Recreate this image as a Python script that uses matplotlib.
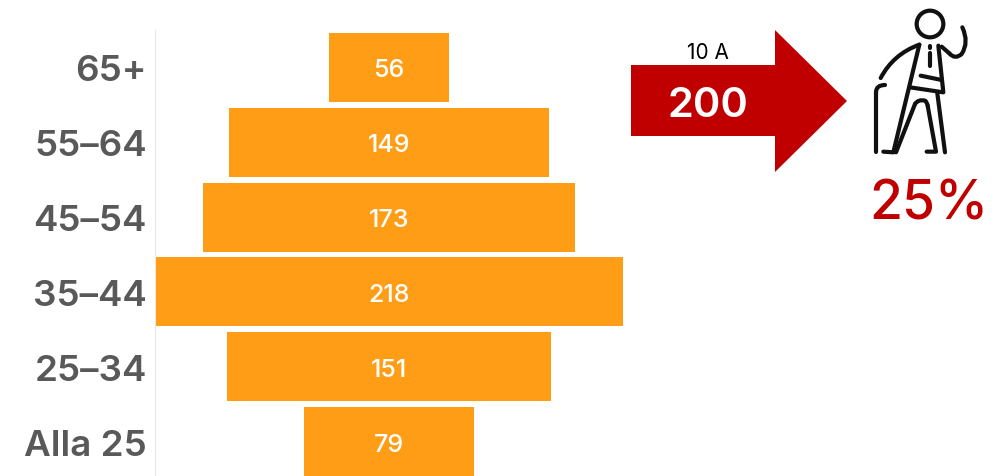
import matplotlib
matplotlib.use("Agg")
from matplotlib import pyplot as plt
from matplotlib.patches import Circle, PathPatch, Polygon
from matplotlib.path import Path

W, H = 994, 477

ages = ["65+", "55–64", "45–54", "35–44", "25–34", "Alla 25"]
counts = [56, 149, 173, 218, 151, 79]
arrow_top = "10 A"
arrow_value = "200"
share = "25%"

ORANGE = "#ff9e16"
RED = "#c00000"
GREY = "#595959"

plt.rcParams["font.family"] = ["Inter", "DejaVu Sans"]

fig = plt.figure(figsize=(W / 100, H / 100), dpi=100)

# bars are centred on zero, so the pyramid sits on the axis span
ax = fig.add_axes([155 / W, 1 - 480 / H, 468 / W, 449 / H])
y = range(len(ages))
ax.barh(y, counts, left=[-c / 2 for c in counts], height=0.92, color=ORANGE)
ax.set_xlim(-109, 109)
ax.set_ylim(5.5, -0.5)
ax.set_xticks([])
ax.set_yticks(list(y), ages)
ax.tick_params(axis="y", length=0, pad=6, labelsize=26.5, labelcolor=GREY)
for label in ax.get_yticklabels():
    label.set_fontweight("semibold")
for side in ["top", "right", "bottom"]:
    ax.spines[side].set_visible(False)
ax.spines["left"].set_color("#e6e6e6")
for i, c in zip(y, counts):
    ax.text(0, i, str(c), color="white", fontsize=18, fontweight="medium",
            ha="center", va="center_baseline")

# overlay in pixel coordinates for the arrow and the figure icon
ov = fig.add_axes([0, 0, 1, 1], zorder=5)
ov.set_xlim(0, W)
ov.set_ylim(H, 0)
ov.axis("off")
ov.patch.set_alpha(0)

ov.add_patch(Polygon([(631, 66), (775, 66), (775, 31), (847, 102), (775, 173),
                      (775, 137), (631, 137)], closed=True, color=RED, lw=0))
ov.text(708, 51, arrow_top, ha="center", va="center_baseline", fontsize=15, color="black")
ov.text(708, 102, arrow_value, ha="center", va="center_baseline", fontsize=30,
        fontweight="semibold", color="white")
ov.text(929, 200, share, ha="center", va="center_baseline", fontsize=38.5,
        fontweight="medium", color=RED)


def stroke(points, curved=False):
    # points are read from the 3x zoom of the icon
    pts = [(860 + px / 3, 5 + py / 3) for px, py in points]
    if curved:
        codes = [Path.MOVETO] + [Path.CURVE3] * (len(pts) - 1)
    else:
        codes = [Path.MOVETO] + [Path.LINETO] * (len(pts) - 1)
    ov.add_patch(PathPatch(Path(pts, codes), fc="none", ec="#111111", lw=3,
                           capstyle="round", joinstyle="round"))


ov.add_patch(Circle((860 + 210 / 3, 5 + 60 / 3), 40 / 3, fc="none", ec="#111111", lw=3))
stroke([(307, 70), (328, 115), (305, 150), (285, 168), (268, 148)], curved=True)
stroke([(268, 148), (245, 128)])
stroke([(178, 122), (100, 150), (62, 222)], curved=True)
stroke([(178, 122), (100, 445), (70, 443)])
stroke([(235, 125), (250, 265), (150, 250)])
stroke([(182, 215), (245, 228)])
stroke([(210, 125), (210, 131)])
stroke([(210, 148), (210, 185)])
stroke([(108, 445), (165, 300)])
stroke([(165, 300), (175, 285), (195, 290), (200, 292), (203, 305)], curved=True)
stroke([(203, 305), (228, 443), (200, 443)])
stroke([(232, 268), (255, 445)])
stroke([(48, 445), (48, 265)])
stroke([(48, 265), (48, 243), (75, 243)], curved=True)

fig.savefig("out.png", dpi=100)
